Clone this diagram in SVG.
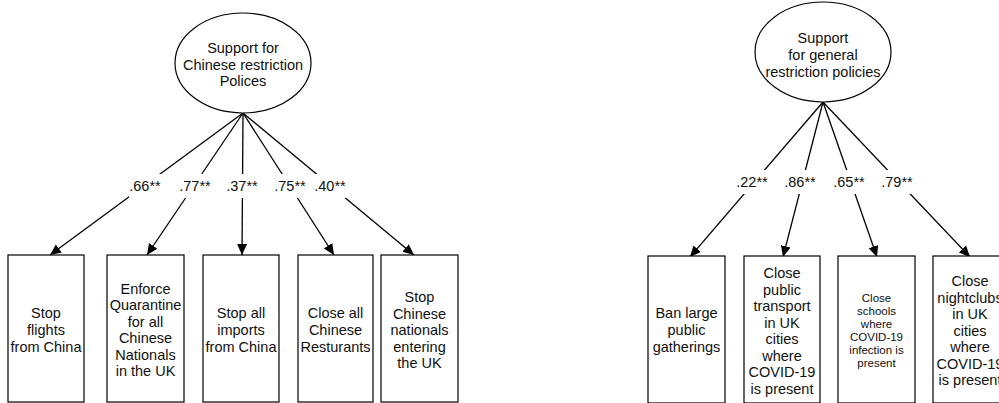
<svg xmlns="http://www.w3.org/2000/svg" width="999" height="403" viewBox="0 0 999 403">
<style>
.n{fill:#fff;stroke:#000;stroke-width:1.2}
.t{font-family:"Liberation Sans",Arial,sans-serif;font-size:14.5px;fill:#111;text-anchor:middle}
.s{font-size:11.5px}
.c{stroke:#000;stroke-width:1.3;fill:none;marker-end:url(#ah)}
.lb{fill:#fff}
</style>
<defs>
<marker id="ah" markerUnits="userSpaceOnUse" markerWidth="12" markerHeight="12" viewBox="0 0 12 12" refX="11" refY="6" orient="auto">
<path d="M0,1 L11,6 L0,11 Z" fill="#000"/>
</marker>
</defs>
<rect width="999" height="403" fill="#fff"/>
<g id="connectors">
<line class="c" x1="243" y1="113" x2="50" y2="255"/>
<line class="c" x1="243" y1="113" x2="147" y2="255"/>
<line class="c" x1="243" y1="113" x2="242" y2="255"/>
<line class="c" x1="243" y1="113" x2="334" y2="255"/>
<line class="c" x1="243" y1="113" x2="414" y2="255"/>
<line class="c" x1="823" y1="102" x2="690" y2="257"/>
<line class="c" x1="823" y1="102" x2="783" y2="257"/>
<line class="c" x1="823" y1="102" x2="877" y2="257"/>
<line class="c" x1="823" y1="102" x2="970" y2="257"/>
<g id="labels">
<rect class="lb" x="129" y="174" width="32" height="24"/>
<rect class="lb" x="179" y="174" width="32" height="24"/>
<rect class="lb" x="226" y="174" width="32" height="24"/>
<rect class="lb" x="274" y="174" width="32" height="24"/>
<rect class="lb" x="314" y="174" width="32" height="24"/>
<rect class="lb" x="736" y="170" width="32" height="24"/>
<rect class="lb" x="784" y="170" width="32" height="24"/>
<rect class="lb" x="833" y="170" width="32" height="24"/>
<rect class="lb" x="881" y="170" width="32" height="24"/>
<text class="t" x="145" y="191">.66**</text>
<text class="t" x="195" y="191">.77**</text>
<text class="t" x="242" y="191">.37**</text>
<text class="t" x="290" y="191">.75**</text>
<text class="t" x="330" y="191">.40**</text>
<text class="t" x="752" y="187">.22**</text>
<text class="t" x="800" y="187">.86**</text>
<text class="t" x="849" y="187">.65**</text>
<text class="t" x="897" y="187">.79**</text>
</g>
</g>
<g id="latent1">
<ellipse class="n" cx="243" cy="63" rx="68" ry="50"/>
<text class="t" x="243" y="53">Support for</text>
<text class="t" x="243" y="70">Chinese restriction</text>
<text class="t" x="243" y="86">Polices</text>
</g>
<g id="latent2">
<ellipse class="n" cx="823" cy="52" rx="68" ry="50"/>
<text class="t" x="823" y="43">Support</text>
<text class="t" x="823" y="60">for general</text>
<text class="t" x="823" y="77">restriction policies</text>
</g>
<g id="b1">
<rect class="n" x="8" y="255" width="76" height="147"/>
<text class="t" x="46" y="318">Stop</text>
<text class="t" x="46" y="335">flights</text>
<text class="t" x="46" y="352">from China</text>
</g>
<g id="b2">
<rect class="n" x="107" y="255" width="77" height="147"/>
<text class="t" x="145.5" y="293.5">Enforce</text>
<text class="t" x="145.5" y="310">Quarantine</text>
<text class="t" x="145.5" y="326.5">for all</text>
<text class="t" x="145.5" y="343">Chinese</text>
<text class="t" x="145.5" y="359.5">Nationals</text>
<text class="t" x="145.5" y="376">in the UK</text>
</g>
<g id="b3">
<rect class="n" x="203" y="255" width="76" height="147"/>
<text class="t" x="241" y="318">Stop all</text>
<text class="t" x="241" y="335">imports</text>
<text class="t" x="241" y="352">from China</text>
</g>
<g id="b4">
<rect class="n" x="298" y="255" width="75" height="147"/>
<text class="t" x="335.5" y="318">Close all</text>
<text class="t" x="335.5" y="335">Chinese</text>
<text class="t" x="335.5" y="352">Resturants</text>
</g>
<g id="b5">
<rect class="n" x="381" y="255" width="77" height="147"/>
<text class="t" x="419.5" y="302">Stop</text>
<text class="t" x="419.5" y="318.5">Chinese</text>
<text class="t" x="419.5" y="335">nationals</text>
<text class="t" x="419.5" y="351.5">entering</text>
<text class="t" x="419.5" y="368">the UK</text>
</g>
<g id="r1">
<rect class="n" x="648" y="256" width="77" height="147"/>
<text class="t" x="686.5" y="318">Ban large</text>
<text class="t" x="686.5" y="335">public</text>
<text class="t" x="686.5" y="352">gatherings</text>
</g>
<g id="r2">
<rect class="n" x="744" y="256" width="76" height="147"/>
<text class="t" x="782" y="278">Close</text>
<text class="t" x="782" y="294.5">public</text>
<text class="t" x="782" y="311">transport</text>
<text class="t" x="782" y="327.5">in UK</text>
<text class="t" x="782" y="344">cities</text>
<text class="t" x="782" y="360.5">where</text>
<text class="t" x="782" y="377">COVID-19</text>
<text class="t" x="782" y="393.5">is present</text>
</g>
<g id="r3">
<rect class="n" x="838" y="256" width="77" height="147"/>
<text class="t s" x="876.5" y="302">Close</text>
<text class="t s" x="876.5" y="315">schools</text>
<text class="t s" x="876.5" y="328">where</text>
<text class="t s" x="876.5" y="341">COVID-19</text>
<text class="t s" x="876.5" y="354">infection is</text>
<text class="t s" x="876.5" y="367">present</text>
</g>
<g id="r4">
<rect class="n" x="933" y="256" width="77" height="147"/>
<text class="t" x="970" y="286">Close</text>
<text class="t" x="970" y="302.5">nightclubs</text>
<text class="t" x="970" y="319">in UK</text>
<text class="t" x="970" y="335.5">cities</text>
<text class="t" x="970" y="352">where</text>
<text class="t" x="970" y="368.5">COVID-19</text>
<text class="t" x="970" y="385">is present</text>
</g>
</svg>
